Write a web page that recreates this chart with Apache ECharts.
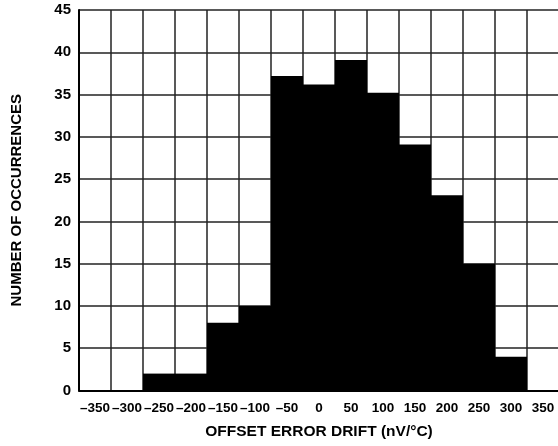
<!DOCTYPE html>
<html>
<head>
<meta charset="utf-8">
<script src="https://cdn.jsdelivr.net/npm/echarts@6/dist/echarts.min.js"></script>
<style>
html,body{margin:0;padding:0;background:#fff;}
#drift_chart{width:558px;height:446px;}
</style>
</head>
<body>
<div id="drift_chart"></div>
<script>
// 数据
var binLabels=["\u2013350","\u2013300","\u2013250","\u2013200","\u2013150","\u2013100","\u201350","0","50","100","150","200","250","300","350"];
var occurrences=[0,0,2,2,8,10,37.2,36.2,39.1,35.2,29.1,23.1,15,4,0];
var yTicks={min:0,max:45,interval:5};

var drift_chart=echarts.init(document.getElementById("drift_chart"));
var option={
    animation:false,
    textStyle:{fontFamily:"Liberation Sans, Arial, sans-serif"},
    grid:{
        left:79,
        top:10,
        width:480,
        height:380.5,
        containLabel:false,
        outerBoundsMode:"none"
    },
    xAxis:{
        type:"category",
        data:binLabels,
        boundaryGap:true,
        name:"OFFSET ERROR DRIFT (nV/°C)",
        nameLocation:"middle",
        nameGap:33,
        nameTextStyle:{
            color:"#000",
            fontSize:15.5,
            fontWeight:"bold"
        },
        axisLabel:{
            color:"#000",
            fontSize:13.5,
            fontWeight:"bold",
            interval:0,
            hideOverlap:false,
            margin:11
        },
        axisTick:{show:false},
        axisLine:{
            lineStyle:{color:"#000",width:2}
        },
        splitLine:{
            show:true,
            interval:0,
            lineStyle:{color:"#222",width:1.5}
        }
    },
    yAxis:{
        type:"value",
        min:yTicks.min,
        max:yTicks.max,
        interval:yTicks.interval,
        name:"NUMBER OF OCCURRENCES",
        nameLocation:"middle",
        nameGap:55,
        nameTextStyle:{
            color:"#000",
            fontSize:15,
            fontWeight:"bold"
        },
        axisLabel:{
            color:"#000",
            fontSize:15,
            fontWeight:"bold",
            margin:8
        },
        axisTick:{show:false},
        axisLine:{
            show:true,
            lineStyle:{color:"#000",width:2}
        },
        splitLine:{
            lineStyle:{color:"#222",width:1.5}
        }
    },
    series:[{
        type:"bar",
        name:"occurrences",
        barCategoryGap:"0%",
        itemStyle:{color:"#000"},
        data:occurrences
    }]
};
drift_chart.setOption(option);
</script>
</body>
</html>
